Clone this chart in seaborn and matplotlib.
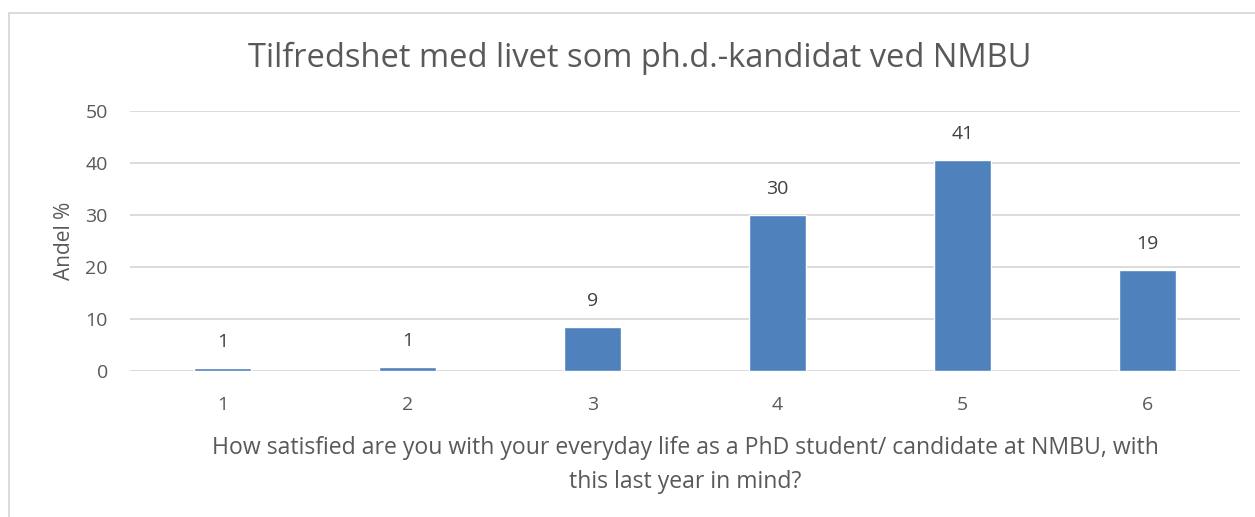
import numpy as np
import pandas as pd
import matplotlib
matplotlib.use("Agg")
import matplotlib.pyplot as plt
import seaborn as sns
from matplotlib.patches import Rectangle

# data
svar = ["1", "2", "3", "4", "5", "6"]
andel = [0.6, 0.8, 8.5, 30.0, 40.6, 19.4]
etiketter = ["1", "1", "9", "30", "41", "19"]

df = pd.DataFrame({"svar": svar, "andel": andel})

sns.set_style("white")
plt.rcParams["font.family"] = ["Open Sans", "DejaVu Sans"]
tekst = "#595959"

fig = plt.figure(figsize=(12.55, 5.17), dpi=100)
ax = fig.add_axes([130 / 1255, 1 - 371 / 517, (1240 - 130) / 1255, (371 - 111) / 517])

sns.barplot(data=df, x="svar", y="andel", color="#4f81bd", width=0.31,
            saturation=1, ax=ax, zorder=3)

for p, lab in zip(ax.patches, etiketter):
    ax.annotate(lab, (p.get_x() + p.get_width() / 2, p.get_height()),
                xytext=(0, 12), textcoords="offset points", ha="center",
                va="bottom", fontsize=14, color="#404040")

ax.set_ylim(0, 50)
ax.set_yticks(range(0, 51, 10))
ax.yaxis.grid(True, color="#d9d9d9", lw=1.3, zorder=0)
for s in ax.spines.values():
    s.set_visible(False)
ax.tick_params(axis="both", length=0, labelsize=14, colors=tekst)
ax.tick_params(axis="y", pad=16)
ax.tick_params(axis="x", pad=18)
ax.set_ylabel("Andel %", fontsize=15, color=tekst)
ax.yaxis.set_label_coords(-0.050, 0.5)
ax.set_xlabel("How satisfied are you with your everyday life as a PhD student/ candidate at NMBU, with\nthis last year in mind?",
              fontsize=16.6, color=tekst, labelpad=16, linespacing=1.55)

fig.text(640 / 1255, 1 - 58 / 517, "Tilfredshet med livet som ph.d.-kandidat ved NMBU",
         ha="center", va="center", fontsize=23.5, color=tekst)

# ramme rundt diagrammet
fig.patches.append(Rectangle((9 / 1255, -0.05), 1.2, 1 - 13 / 517 + 0.05,
                             transform=fig.transFigure, fill=False,
                             edgecolor="#d9d9d9", lw=1.3))

fig.savefig("out.png", dpi=100)
